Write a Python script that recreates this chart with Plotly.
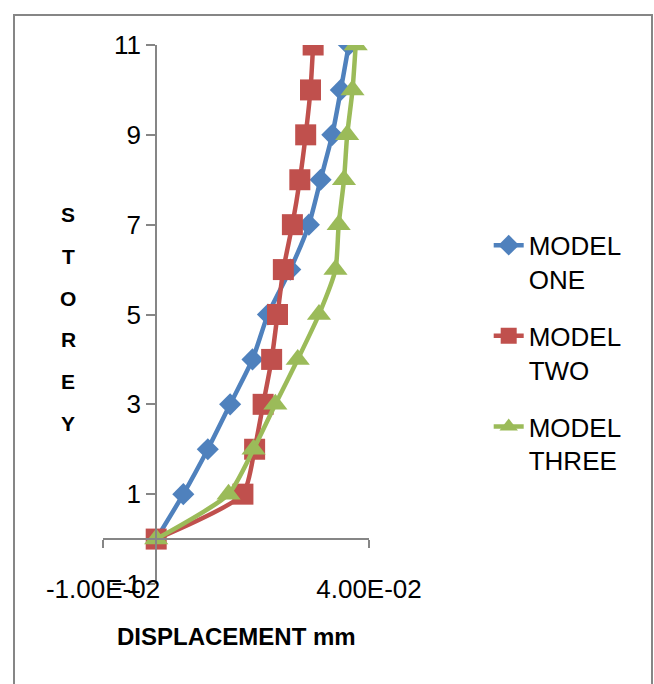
import plotly.graph_objects as go

stories = [0, 1, 2, 3, 4, 5, 6, 7, 8, 9, 10, 11]
model_one = [0, 0.0051, 0.0097, 0.0139, 0.0181, 0.0210, 0.0252, 0.0287, 0.0309, 0.0331, 0.0347, 0.0362]
model_two = [0, 0.0163, 0.0185, 0.0201, 0.0217, 0.0228, 0.0239, 0.0256, 0.0270, 0.0281, 0.0290, 0.0295]
model_three = [0, 0.0136, 0.0183, 0.0224, 0.0266, 0.0306, 0.0337, 0.0343, 0.0353, 0.0359, 0.0369, 0.0375]

series_names = ["MODEL<br>ONE", "MODEL<br>TWO", "MODEL<br>THREE"]
x_tickvals = [-0.01, 0.04]
x_ticklabels = ["-1.00E-02", "4.00E-02"]
y_tickvals = [-1, 1, 3, 5, 7, 9, 11]
x_range = [-0.01, 0.04]
y_range = [-1, 11]
y_title = "STOREY"
x_title = "DISPLACEMENT mm"

FONT = "Liberation Sans"
GRAY = "#868686"

fig = go.Figure()
styles = [
    dict(color="#4F81BD", symbol="diamond", size=17),
    dict(color="#C0504D", symbol="square", size=21),
    dict(color="#9BBB59", symbol="triangle-up", size=21),
]
for name, xs, st in zip(series_names, [model_one, model_two, model_three], styles):
    fig.add_trace(go.Scatter(
        x=xs, y=stories, name=name, mode="lines+markers",
        line=dict(color=st["color"], width=4.5, shape="spline", smoothing=0.6),
        marker=dict(color=st["color"], symbol=st["symbol"], size=st["size"]),
        legendgroup=name,
    ))

# invisible helper trace for the label axis
fig.add_trace(go.Scatter(x=model_one, y=stories, xaxis="x2", mode="markers",
                         marker=dict(opacity=0), showlegend=False, hoverinfo="skip"))

zero_frac_x = (0 - x_range[0]) / (x_range[1] - x_range[0])
zero_frac_y = (0 - y_range[0]) / (y_range[1] - y_range[0])

fig.update_layout(
    width=654, height=684,
    margin=dict(l=103, r=285, t=45, b=100),
    paper_bgcolor="white", plot_bgcolor="white",
    font=dict(family=FONT, size=26, color="black"),
    xaxis=dict(range=x_range, anchor="free", position=zero_frac_y,
               showline=True, linecolor=GRAY, linewidth=2,
               ticks="outside", ticklen=8, tickwidth=2, tickcolor=GRAY,
               tickvals=x_tickvals, showticklabels=False,
               showgrid=False, zeroline=False),
    xaxis2=dict(range=x_range, overlaying="x", anchor="free", position=0.024, side="bottom",
                showline=False, ticks="", tickvals=x_tickvals, ticktext=x_ticklabels,
                tickfont=dict(family=FONT, size=26, color="black"),
                showgrid=False, zeroline=False),
    yaxis=dict(range=y_range, anchor="free", position=zero_frac_x,
               showline=True, linecolor=GRAY, linewidth=2,
               ticks="outside", ticklen=9, tickwidth=2, tickcolor=GRAY,
               tickvals=y_tickvals,
               tickfont=dict(family=FONT, size=26, color="black"),
               showgrid=False, zeroline=False),
    legend=dict(x=1.45, y=0.672, xanchor="left", yanchor="top",
                font=dict(family=FONT, size=26, color="black"),
                bgcolor="rgba(0,0,0,0)", valign="top", tracegroupgap=20,
                itemwidth=30),
    showlegend=True,
)

# chart outer border
fig.add_shape(type="rect", xref="paper", yref="paper",
              x0=(14 - 103) / 266, x1=(652 - 103) / 266,
              y0=(584 - 700) / 539, y1=(584 - 15) / 539,
              line=dict(color=GRAY, width=2), fillcolor="rgba(0,0,0,0)", layer="below")

# x axis title
fig.add_annotation(text="<b>" + x_title + "</b>", xref="paper", yref="paper",
                   x=0.5, y=(584 - 636) / 539, xanchor="center", yanchor="middle",
                   showarrow=False, font=dict(family=FONT, size=24, color="black"))

# vertical stacked y title
top_p, bot_p = (584 - 215) / 539, (584 - 423) / 539
n = len(y_title)
for i, ch in enumerate(y_title):
    fig.add_annotation(text="<b>" + ch + "</b>", xref="paper", yref="paper",
                       x=(68 - 103) / 266, y=top_p - i * (top_p - bot_p) / (n - 1),
                       xanchor="center", yanchor="middle",
                       showarrow=False, font=dict(family=FONT, size=21, color="black"))

fig.write_html("out.html")
